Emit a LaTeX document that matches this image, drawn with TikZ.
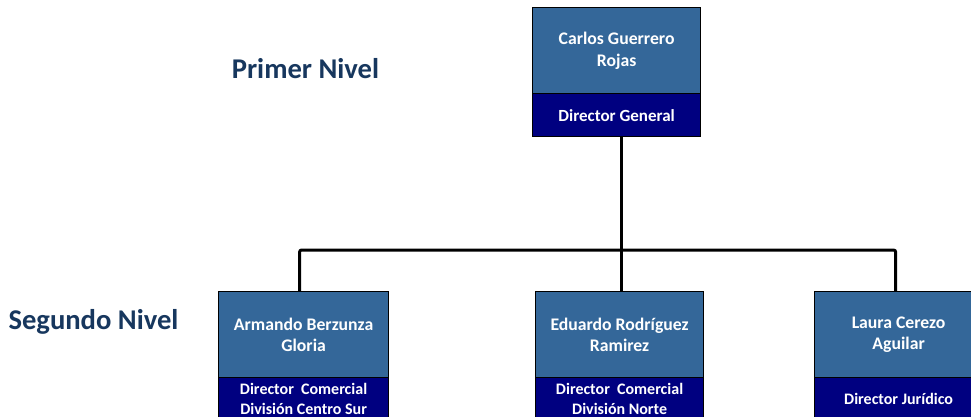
\documentclass[tikz,border=0pt]{standalone}
\usepackage{fontspec}
\setmainfont{Carlito}
\definecolor{boxblue}{RGB}{52,103,153}
\definecolor{boxnavy}{RGB}{0,0,128}
\definecolor{labelnavy}{RGB}{23,55,94}
\begin{document}
\begin{tikzpicture}[x=1pt,y=-1pt,
  namebox/.style={draw=black, line width=1.2pt, fill=boxblue, text=white,
    font=\bfseries\fontsize{17.7}{21.5}\selectfont, minimum width=168pt,
    minimum height=86pt, align=center, inner sep=0pt, anchor=north west},
  titlebox/.style={draw=black, line width=1.2pt, fill=boxnavy, text=white,
    font=\bfseries\fontsize{16}{19.5}\selectfont, minimum width=168pt,
    minimum height=43pt, align=center, inner sep=0pt, anchor=north west},
  levellabel/.style={text=labelnavy, font=\bfseries\fontsize{28.6}{32}\selectfont, inner sep=0pt},
  conn/.style={draw=black, line width=3pt, rounded corners=2pt}]
\useasboundingbox (0,0) rectangle (971,416);
\clip (0,0) rectangle (971,416);
\fill[white] (0,0) rectangle (971,416);

% level labels
\node[levellabel] (lvl1) at (305.5,69) {Primer Nivel};
\node[levellabel] (lvl2) at (93.5,322) {Segundo Nivel};

\coordinate (jn) at (621.5,250);

% top box
\node[namebox] (tname) at (532,7) {Carlos Guerrero\\Rojas};
\node[titlebox, font=\bfseries\fontsize{17}{20}\selectfont] (ttitle) at (532,93) {Director General};

% second level
\node[namebox, minimum width=170pt] (lname) at (218,291) {Armando Berzunza\\Gloria};
\node[titlebox, minimum width=170pt] (ltitle) at (218,377) {Director\ \ Comercial\\División Centro Sur};
\node[namebox] (mname) at (535,291) {Eduardo Rodríguez\\Ramirez};
\node[titlebox] (mtitle) at (535,377) {Director\ \ Comercial\\División Norte};
\node[namebox] (rname) at (814,291) {Laura Cerezo\\Aguilar};
\node[titlebox] (rtitle) at (814,377) {Director Jurídico};

% connectors
\draw[conn] (ttitle.south -| jn) -- (jn);
\draw[conn] ([xshift=-4pt]lname.north) |- (jn) -| ([xshift=-3pt]rname.north);
\draw[conn] (jn) -- (mname.north -| jn);
\end{tikzpicture}
\end{document}
